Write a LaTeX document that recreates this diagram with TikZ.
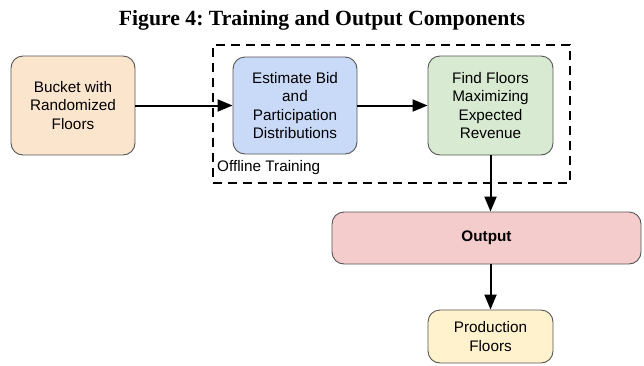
\documentclass[tikz,border=0pt]{standalone}
\usepackage{fontspec}
\setmainfont{Liberation Sans}
\newfontfamily\titlefont{Liberation Serif}
\usetikzlibrary{arrows.meta}
\definecolor{peach}{HTML}{FCE5CD}
\definecolor{lblue}{HTML}{C9DAF8}
\definecolor{lgreen}{HTML}{D9EAD3}
\definecolor{lred}{HTML}{F4CCCC}
\definecolor{lyellow}{HTML}{FFF2CC}
\definecolor{boxline}{HTML}{555555}
\frenchspacing
\begin{document}
\begin{tikzpicture}[x=1pt,y=-1pt,
  box/.style={draw=boxline, line width=0.9pt, rounded corners=12pt, align=center, inner sep=0pt, font=\fontsize{15.3}{18.5}\selectfont},
  arr/.style={line width=2pt, -{Triangle[length=15pt,width=12pt]}},
  titlestyle/.style={font=\titlefont\bfseries\fontsize{21.7}{26}\selectfont, inner sep=0pt},
  dashbox/.style={draw=black, line width=2pt, dash pattern=on 9pt off 6pt, inner sep=0pt},
  lbl/.style={font=\fontsize{15.3}{18.5}\selectfont, inner sep=0pt, anchor=west}]
\useasboundingbox (0,0) rectangle (644,365);
\node[titlestyle] (title) at (322,20) {Figure 4: Training and Output Components};
\node[dashbox, minimum width=357pt, minimum height=138pt] (offline) at (391.5,114) {};
\node[lbl] (offlbl) at (217,168) {Offline Training};
\node[box, fill=peach, minimum width=124pt, minimum height=99pt] (bucket) at (73,105.5) {Bucket with\\Randomized\\Floors};
\node[box, fill=lblue, minimum width=124pt, minimum height=97pt] (est) at (295,105.5) {Estimate Bid\\and\\Participation\\Distributions};
\node[box, fill=lgreen, minimum width=125pt, minimum height=99pt] (find) at (490.5,105.5) {Find Floors\\Maximizing\\Expected\\Revenue};
\node[box, fill=lred, minimum width=309pt, minimum height=52pt] (output) at (486.5,238) {\bfseries Output};
\node[box, fill=lyellow, minimum width=125pt, minimum height=53pt] (prod) at (490.5,336.5) {Production\\Floors};
\draw[arr] (bucket) -- (est);
\draw[arr] (est) -- (find);
\draw[arr] (find.south) -- (find.south |- output.north);
\draw[arr] (prod.north |- output.south) -- (prod.north);
\end{tikzpicture}
\end{document}
